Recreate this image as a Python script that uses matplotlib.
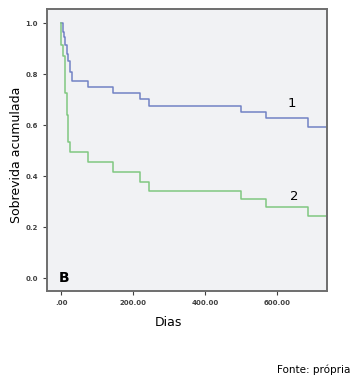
import matplotlib
matplotlib.use("Agg")
import matplotlib.pyplot as plt

# curva 1 (azul)
dias_1 = [0, 4, 7, 11, 16, 18, 25, 30, 76, 145, 219, 243, 500, 569, 686, 739]
sobrev_1 = [1.0, 0.966, 0.946, 0.914, 0.88, 0.85, 0.81, 0.774, 0.75, 0.727, 0.703, 0.675, 0.651, 0.628, 0.592, 0.592]

# curva 2 (verde)
dias_2 = [0, 1, 5, 11, 16, 19, 25, 76, 145, 219, 243, 500, 569, 686, 739]
sobrev_2 = [1.0, 0.914, 0.87, 0.725, 0.64, 0.535, 0.496, 0.455, 0.416, 0.378, 0.343, 0.31, 0.277, 0.242, 0.242]

xticks = [0, 200, 400, 600]
xticklabels = [".00", "200.00", "400.00", "600.00"]
yticks = [0.0, 0.2, 0.4, 0.6, 0.8, 1.0]

fig = plt.figure(figsize=(3.59, 3.80), dpi=100)
ax = fig.add_axes([0.131, 0.234, 0.780, 0.742])
ax.set_facecolor("#f1f2f4")

ax.step(dias_1, sobrev_1, where="post", color="#7282c4", lw=1.1)
ax.step(dias_2, sobrev_2, where="post", color="#80c880", lw=1.1)

ax.set_xlim(-39, 739)
ax.set_ylim(-0.051, 1.055)
ax.set_xticks(xticks)
ax.set_xticklabels(xticklabels)
ax.set_yticks(yticks)
ax.set_yticklabels(["%.1f" % v for v in yticks])
ax.tick_params(labelsize=5, colors="#404040", length=3, width=0.8)
for lab in ax.get_xticklabels() + ax.get_yticklabels():
    lab.set_fontweight("bold")
for s in ax.spines.values():
    s.set_color("#6e6e6e")
    s.set_linewidth(1.4)

ax.text(640, 0.66, "1", fontsize=9.5, ha="center", va="bottom")
ax.text(648, 0.295, "2", fontsize=9.5, ha="center", va="bottom")
ax.text(-6, 0.0, "B", fontsize=10, fontweight="bold", ha="left", va="center")

fig.text(0.045, 0.592, "Sobrevida acumulada", rotation=90, fontsize=9, ha="center", va="center")
fig.text(0.468, 0.15, "Dias", fontsize=9, ha="center", va="center")
fig.text(0.975, 0.027, "Fonte: própria", fontsize=7.5, ha="right", va="center")

fig.savefig("out.png", dpi=100)
